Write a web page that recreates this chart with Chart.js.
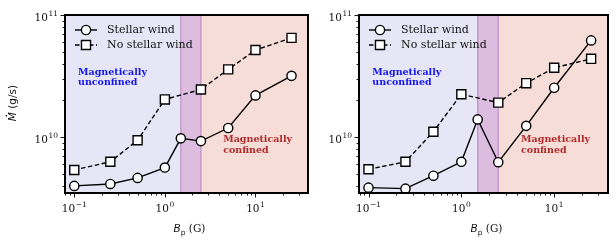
<!DOCTYPE html>
<html>
<head>
<meta charset="utf-8">
<script src="https://cdn.jsdelivr.net/npm/chart.js@4/dist/chart.umd.min.js"></script>
<style>
  html, body { margin: 0; padding: 0; background: #fff; }
  #wrap { position: relative; width: 616px; height: 245px; overflow: hidden; }
  .panel { position: absolute; top: 0; height: 245px; }
  #left { left: 0; width: 316px; }
  #right { left: 310px; width: 306px; }
</style>
</head>
<body>
<div id="wrap">
  <div class="panel" id="left"><canvas id="chartLeft"></canvas></div>
  <div class="panel" id="right"><canvas id="chartRight"></canvas></div>
</div>
<script>
// field strengths (G)
const bpWind = [0.1, 0.25, 0.5, 1, 1.5, 2.5, 5, 10, 25];
const bpNoWind = [0.1, 0.25, 0.5, 1, 2.5, 5, 10, 25];

// mass loss rates (g/s), left panel
const leftWind = [4.0e9, 4.15e9, 4.65e9, 5.65e9, 9.8e9, 9.3e9, 1.19e10, 2.2e10, 3.18e10];
const leftNoWind = [5.4e9, 6.3e9, 9.45e9, 2.04e10, 2.46e10, 3.59e10, 5.17e10, 6.5e10];

// right panel
const rightWind = [3.87e9, 3.8e9, 4.85e9, 6.3e9, 1.4e10, 6.25e9, 1.24e10, 2.54e10, 6.2e10];
const rightNoWind = [5.47e9, 6.3e9, 1.11e10, 2.25e10, 1.92e10, 2.77e10, 3.7e10, 4.38e10];

const seriesNames = ["Stellar wind", "No stellar wind"];
const transitionBand = [1.5, 2.5];
const regionLabels = [["Magnetically", "unconfined"], ["Magnetically", "confined"]];

// tick labels: base 10 with exponent
const xMajor = [0.1, 1, 10];
const xTickExp = ["\u22121", "0", "1"];
const yMajor = [1e10, 1e11];
const yTickExp = ["10", "11"];

const X_MIN = 0.079, X_MAX = 38;
const Y_MIN = 3.5e9, Y_MAX = 1e11;

const SERIF = "'DejaVu Serif', serif";
const SANS = "'DejaVu Sans', sans-serif";

function logTicks(min, max) {
  const out = [];
  for (let e = Math.floor(Math.log10(min)); e <= Math.ceil(Math.log10(max)); e++) {
    for (let m = 1; m < 10; m++) {
      const v = m * Math.pow(10, e);
      if (v >= min * 0.999 && v <= max * 1.001) out.push({ value: v, major: m === 1 });
    }
  }
  return out;
}

// draws "10" with raised exponent; align 'center' or 'right'
function drawPow(ctx, exp, x, baseY, align) {
  ctx.font = "10.5px " + SERIF;
  const wb = ctx.measureText("10").width;
  ctx.font = "7.5px " + SERIF;
  const we = ctx.measureText(exp).width;
  const total = wb + we + 0.5;
  let sx = align === "center" ? x - total / 2 : x - total;
  ctx.textAlign = "left";
  ctx.textBaseline = "alphabetic";
  ctx.font = "10.5px " + SERIF;
  ctx.fillText("10", sx, baseY);
  ctx.font = "7.5px " + SERIF;
  ctx.fillText(exp, sx + wb + 0.5, baseY - 4.5);
}

// background regions
const regionsPlugin = {
  id: "regions",
  beforeDatasetsDraw(chart) {
    const { ctx, chartArea: a, scales: { x, y } } = chart;
    const x1 = x.getPixelForValue(transitionBand[0]);
    const x2 = x.getPixelForValue(transitionBand[1]);
    ctx.save();
    ctx.fillStyle = "#e6e6f6";
    ctx.fillRect(a.left, a.top, x1 - a.left, a.bottom - a.top);
    ctx.fillStyle = "#dcbcdf";
    ctx.fillRect(x1, a.top, x2 - x1, a.bottom - a.top);
    ctx.fillStyle = "#f7ddd8";
    ctx.fillRect(x2, a.top, a.right - x2, a.bottom - a.top);
    ctx.strokeStyle = "#c08cc8";
    ctx.lineWidth = 1.2;
    [x1, x2].forEach(px => {
      ctx.beginPath();
      ctx.moveTo(px, a.top);
      ctx.lineTo(px, a.bottom);
      ctx.stroke();
    });

    // region annotations
    ctx.font = "bold 9.5px " + SERIF;
    ctx.textBaseline = "middle";
    ctx.textAlign = "left";
    ctx.fillStyle = "#1414ee";
    regionLabels[0].forEach((t, i) => {
      ctx.fillText(t, x.getPixelForValue(0.11), y.getPixelForValue(3.4e10) + i * 10.7);
    });
    ctx.fillStyle = "#b02a2a";
    regionLabels[1].forEach((t, i) => {
      ctx.fillText(t, x.getPixelForValue(4.4), y.getPixelForValue(9.6e9) + i * 10.7);
    });
    ctx.restore();
  }
};

// frame, ticks, labels, legend
const framePlugin = {
  id: "frame",
  afterDraw(chart) {
    const { ctx, chartArea: a, scales: { x, y } } = chart;
    const showYTitle = chart.options.plugins.frame.yTitle;
    ctx.save();
    ctx.strokeStyle = "#000";
    ctx.fillStyle = "#111";
    // ticks
    ctx.lineWidth = 0.9;
    logTicks(X_MIN, X_MAX).forEach(t => {
      const px = Math.round(x.getPixelForValue(t.value)) + 0.5;
      ctx.beginPath();
      ctx.moveTo(px, a.bottom);
      ctx.lineTo(px, a.bottom + (t.major ? 4.5 : 2.5));
      ctx.stroke();
    });
    logTicks(Y_MIN, Y_MAX).forEach(t => {
      const py = Math.round(y.getPixelForValue(t.value)) + 0.5;
      ctx.beginPath();
      ctx.moveTo(a.left, py);
      ctx.lineTo(a.left - (t.major ? 4.5 : 2.5), py);
      ctx.stroke();
    });
    ctx.lineWidth = 2;
    ctx.strokeRect(a.left, a.top, a.right - a.left, a.bottom - a.top);

    // tick labels
    xMajor.forEach((v, i) => drawPow(ctx, xTickExp[i], x.getPixelForValue(v), a.bottom + 18.5, "center"));
    yMajor.forEach((v, i) => drawPow(ctx, yTickExp[i], a.left - 7, y.getPixelForValue(v) + 5.5, "right"));

    // legend
    chart.data.datasets.forEach((ds, i) => {
      const ly = a.top + 15 + i * 15;
      const lx = a.left + 10;
      ctx.strokeStyle = "#000";
      ctx.lineWidth = 1.4;
      ctx.setLineDash(ds.borderDash || []);
      ctx.beginPath();
      ctx.moveTo(lx, ly);
      ctx.lineTo(lx + 22, ly);
      ctx.stroke();
      ctx.setLineDash([]);
      ctx.fillStyle = "#fff";
      Chart.helpers.drawPoint(ctx, {
        pointStyle: ds.pointStyle,
        radius: ds.pointRadius,
        borderWidth: 1.4
      }, lx + 11, ly);
      ctx.fillStyle = "#111";
      ctx.font = "11px " + SERIF;
      ctx.textBaseline = "middle";
      ctx.textAlign = "left";
      ctx.fillText(ds.label, lx + 32, ly + 0.5);
    });

    // x axis label
    const cx = (a.left + a.right) / 2 + 3;
    const ty = a.bottom + 39;
    ctx.textBaseline = "alphabetic";
    ctx.textAlign = "left";
    ctx.font = "italic 10.5px " + SANS;
    const wB = ctx.measureText("B").width;
    ctx.font = "7.5px " + SANS;
    const wp = ctx.measureText("p").width;
    ctx.font = "10.5px " + SERIF;
    const wG = ctx.measureText(" (G)").width;
    let sx = cx - (wB + wp + wG) / 2;
    ctx.font = "italic 10.5px " + SANS;
    ctx.fillText("B", sx, ty);
    sx += wB;
    ctx.font = "7.5px " + SANS;
    ctx.fillText("p", sx, ty + 2.5);
    sx += wp;
    ctx.font = "10.5px " + SERIF;
    ctx.fillText(" (G)", sx, ty);

    // y axis label
    if (showYTitle) {
      ctx.translate(16, (a.top + a.bottom) / 2 - 1);
      ctx.rotate(-Math.PI / 2);
      ctx.font = "italic 10.5px " + SANS;
      const wM = ctx.measureText("M").width;
      ctx.font = "10.5px " + SANS;
      const wr = ctx.measureText(" (g/s)").width;
      let ux = -(wM + wr) / 2;
      ctx.font = "italic 10.5px " + SANS;
      ctx.fillText("M", ux, 0);
      ctx.fillRect(ux + wM / 2 + 0.2, -10.3, 1.4, 1.4);
      ctx.font = "10.5px " + SANS;
      ctx.fillText(" (g/s)", ux + wM, 0);
    }
    ctx.restore();
  }
};

function makeChart(id, wind, noWind, showYTitle, yAxisWidth, rightPad) {
  return new Chart(document.getElementById(id), {
    type: "line",
    data: {
      datasets: [
        {
          label: seriesNames[0],
          data: bpWind.map((b, i) => ({ x: b, y: wind[i] })),
          borderColor: "#000",
          backgroundColor: "#fff",
          borderWidth: 1.4,
          pointStyle: "circle",
          pointRadius: 4.6,
          pointBorderWidth: 1.4,
          pointBackgroundColor: "#fff",
          pointBorderColor: "#000",
          tension: 0
        },
        {
          label: seriesNames[1],
          data: bpNoWind.map((b, i) => ({ x: b, y: noWind[i] })),
          borderColor: "#000",
          backgroundColor: "#fff",
          borderWidth: 1.4,
          borderDash: [4.5, 2.5],
          pointStyle: "rect",
          pointRadius: 6.4,
          pointBorderWidth: 1.4,
          pointBackgroundColor: "#fff",
          pointBorderColor: "#000",
          tension: 0
        }
      ]
    },
    options: {
      responsive: true,
      maintainAspectRatio: false,
      animation: false,
      layout: { padding: { top: 15, right: rightPad, left: 0, bottom: 0 } },
      plugins: { legend: { display: false }, tooltip: { enabled: false }, frame: { yTitle: showYTitle } },
      scales: {
        x: {
          type: "logarithmic",
          min: X_MIN,
          max: X_MAX,
          grid: { display: false },
          border: { display: false },
          ticks: { display: false },
          afterFit: s => { s.height = 52; }
        },
        y: {
          type: "logarithmic",
          min: Y_MIN,
          max: Y_MAX,
          grid: { display: false },
          border: { display: false },
          ticks: { display: false },
          afterFit: s => { s.width = yAxisWidth; }
        }
      }
    },
    plugins: [regionsPlugin, framePlugin]
  });
}

makeChart("chartLeft", leftWind, leftNoWind, true, 65, 8);
makeChart("chartRight", rightWind, rightNoWind, false, 49, 8);
</script>
</body>
</html>
